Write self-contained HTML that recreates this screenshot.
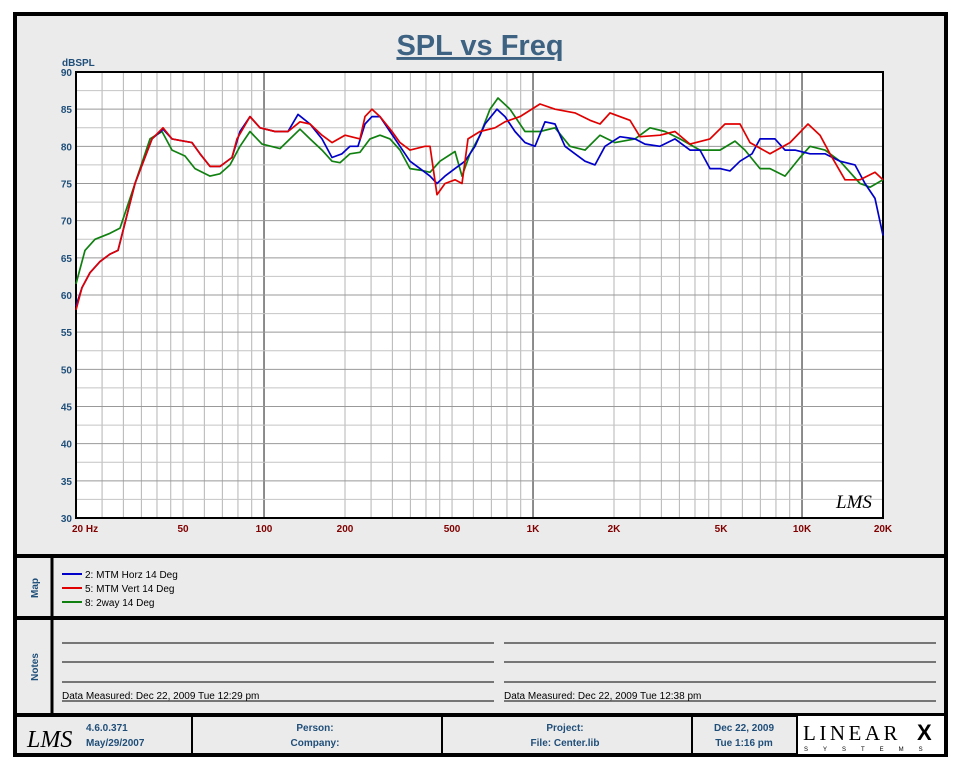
<!DOCTYPE html>
<html><head><meta charset="utf-8"><style>
body{margin:0;background:#fff;width:960px;height:768px;overflow:hidden;font-family:"Liberation Sans",sans-serif}
</style></head><body>
<svg id="s" width="960" height="768" xmlns="http://www.w3.org/2000/svg" font-family="Liberation Sans, sans-serif">
<rect x="15" y="14" width="931" height="741" fill="#ebebeb" stroke="#000" stroke-width="4"/>
<text x="480" y="55" text-anchor="middle" font-size="29" font-weight="bold" fill="#3d6282" text-decoration="underline">SPL vs Freq</text>
<rect x="76" y="72" width="807" height="446" fill="#fff"/>
<g id="grid"></g>
<rect x="76" y="72" width="807" height="446" fill="none" stroke="#000" stroke-width="2"/>
<text x="62" y="66" font-size="10" font-weight="bold" fill="#1f4e79">dBSPL</text>
<g id="lab" font-size="10" font-weight="bold"></g>
<g id="cur" fill="none" stroke-width="1.7" stroke-linejoin="round"></g>
<text x="836" y="508" font-size="19" font-style="italic" font-family="Liberation Serif, serif">LMS</text>
<line x1="15" y1="556" x2="946" y2="556" stroke="#000" stroke-width="4"/>
<line x1="15" y1="618" x2="946" y2="618" stroke="#000" stroke-width="4"/>
<line x1="15" y1="715" x2="946" y2="715" stroke="#000" stroke-width="4"/>
<line x1="52" y1="556" x2="52" y2="715" stroke="#000" stroke-width="3"/>
<text transform="translate(38,588) rotate(-90)" text-anchor="middle" font-size="10" font-weight="bold" fill="#1f4e79">Map</text>
<text transform="translate(38,667) rotate(-90)" text-anchor="middle" font-size="10" font-weight="bold" fill="#1f4e79">Notes</text>
<g font-size="10">
<line x1="62" y1="574" x2="82" y2="574" stroke="#0000c8" stroke-width="2"/><text x="85" y="578">2: MTM Horz 14 Deg</text>
<line x1="62" y1="588" x2="82" y2="588" stroke="#e00000" stroke-width="2"/><text x="85" y="592">5: MTM Vert 14 Deg</text>
<line x1="62" y1="602" x2="82" y2="602" stroke="#108010" stroke-width="2"/><text x="85" y="606">8: 2way 14 Deg</text>
</g>
<g stroke="#000" stroke-width="1">
<line x1="62" y1="643" x2="494" y2="643"/><line x1="62" y1="662" x2="494" y2="662"/><line x1="62" y1="682" x2="494" y2="682"/><line x1="62" y1="701" x2="494" y2="701"/>
<line x1="504" y1="643" x2="936" y2="643"/><line x1="504" y1="662" x2="936" y2="662"/><line x1="504" y1="682" x2="936" y2="682"/><line x1="504" y1="701" x2="936" y2="701"/>
</g>
<g font-size="10"><text x="62" y="699">Data Measured: Dec 22, 2009  Tue 12:29 pm</text><text x="504" y="699">Data Measured: Dec 22, 2009  Tue 12:38 pm</text></g>
<g stroke="#000" stroke-width="2"><line x1="192" y1="715" x2="192" y2="755"/><line x1="442" y1="715" x2="442" y2="755"/><line x1="692" y1="715" x2="692" y2="755"/><line x1="797" y1="715" x2="797" y2="755"/></g>
<rect x="798" y="716" width="146" height="38" fill="#fff"/>
<text x="27" y="747" font-size="24" font-style="italic" font-family="Liberation Serif, serif">LMS</text>
<g font-size="10" font-weight="bold" fill="#1f4e79">
<text x="86" y="731">4.6.0.371</text><text x="86" y="746">May/29/2007</text>
<text x="315" y="731" text-anchor="middle">Person:</text><text x="315" y="746" text-anchor="middle">Company:</text>
<text x="565" y="731" text-anchor="middle">Project:</text><text x="565" y="746" text-anchor="middle">File: Center.lib</text>
<text x="744" y="731" text-anchor="middle">Dec 22, 2009</text><text x="744" y="746" text-anchor="middle">Tue  1:16 pm</text>
</g>
<text x="803" y="740" font-size="21" font-family="Liberation Serif, serif" letter-spacing="3.5">LINEAR</text>
<text x="917" y="740" font-size="22" font-weight="bold">X</text>
<text x="804" y="751" font-size="6" letter-spacing="15">SYSTEMS</text>
</svg>
<script>
var NS="http://www.w3.org/2000/svg";
function el(p,t,a,txt){var e=document.createElementNS(NS,t);for(var k in a)e.setAttribute(k,a[k]);if(txt)e.textContent=txt;document.getElementById(p).appendChild(e);return e;}
function X(f){return 76+269*Math.log10(f/20);}
function Y(d){return 72+(90-d)*446/60;}
var fs=[];[10,100,1000,10000].forEach(function(m){[1,2,3,4,5,6,7,8,9].forEach(function(k){fs.push(k*m);});[2.5,3.5,4.5].forEach(function(k){fs.push(k*m)})});
fs.forEach(function(f){if(f>20&&f<20000){var maj=(f==100||f==1000||f==10000);var x=X(f);el("grid","line",{x1:x,x2:x,y1:72,y2:518,stroke:maj?"#666":"#b4b4b4","stroke-width":maj?1.5:1});}});
for(var d=32.5;d<90;d+=2.5){var y=Y(d);el("grid","line",{x1:76,x2:883,y1:y,y2:y,stroke:(d%5==0)?"#999":"#c4c4c4","stroke-width":1});}
for(var d=30;d<=90;d+=5)el("lab","text",{x:72,y:Y(d)+4,"text-anchor":"end",fill:"#1f4e79"},""+d);
[[20,"20  Hz"],[50,"50"],[100,"100"],[200,"200"],[500,"500"],[1000,"1K"],[2000,"2K"],[5000,"5K"],[10000,"10K"],[20000,"20K"]].forEach(function(a){var x=X(a[0]);el("lab","text",{x:a[0]==20?x-4:x,y:532,"text-anchor":a[0]==20?"start":"middle",fill:"#800000"},a[1]);});
function pl(c,pts){var s=[];for(var i=0;i<pts.length;i+=2)s.push(pts[i]+","+Y(pts[i+1]).toFixed(1));el("cur","polyline",{points:s.join(" "),stroke:c});}
pl("#108010",[76,61.5,85,66,95,67.5,110,68.3,120,69,130,73,150,81,162,82,172,79.5,185,78.7,195,77,210,76,220,76.3,230,77.5,240,80,250,82,262,80.3,280,79.7,290,81,300,82.3,310,81,322,79.5,332,78,340,77.8,350,79,360,79.2,370,81,380,81.5,390,81,400,79.5,410,77,420,76.8,430,76.5,440,78,455,79.3,462,76,470,79,480,81.5,490,85,498,86.5,510,85,525,82,540,82,555,82.5,570,80,585,79.5,600,81.5,615,80.5,635,81,650,82.5,665,82,680,81,700,79.5,720,79.5,735,80.7,745,79.5,760,77,770,77,785,76,800,78.5,810,80,825,79.5,840,78,860,75,870,74.5,883,75.5]);
pl("#0000c8",[76,58.5,82,61,90,63,100,64.5,110,65.5,118,66,135,75,152,81,163,82.3,172,81,180,80.8,192,80.5,200,79,210,77.3,220,77.3,232,78.5,240,82,250,84,260,82.5,275,82,288,82,298,84.3,310,83,322,81,332,78.5,342,79,350,80,358,80,365,83,372,84,380,84,390,82,400,80,410,78,420,77,430,76,437,75,445,76,455,77,465,78,475,80,485,83,497,85,505,84,515,82,525,80.5,535,80,545,83.3,555,83,565,80,575,79,585,78,595,77.5,605,80,620,81.3,635,81,645,80.3,660,80,675,81,690,79.5,700,79.5,710,77,720,77,730,76.7,740,78,752,79,760,81,775,81,785,79.5,795,79.5,810,79,825,79,840,78,855,77.5,865,75,875,73,883,68]);
pl("#e00000",[76,58,82,61,90,63,100,64.5,110,65.5,118,66,135,75,152,81,163,82.5,172,81,180,80.8,192,80.5,200,79,210,77.3,220,77.3,232,78.5,237,81,250,84,260,82.5,275,82,288,82,300,83.3,310,83,322,81.5,332,80.5,345,81.5,360,81,365,84,372,85,380,84,392,82,400,80.5,410,79.5,425,80,430,80,437,73.5,445,75,455,75.5,462,75,468,81,480,82,495,82.5,505,83.3,520,84,540,85.7,555,85,575,84.5,590,83.5,600,83,610,84.5,630,83.5,640,81.3,660,81.5,675,82,690,80.3,710,81,725,83,740,83,750,80.5,770,79,790,80.5,808,83,820,81.5,830,79,845,75.5,860,75.5,875,76.5,883,75.5]);
</script>
</body></html>
